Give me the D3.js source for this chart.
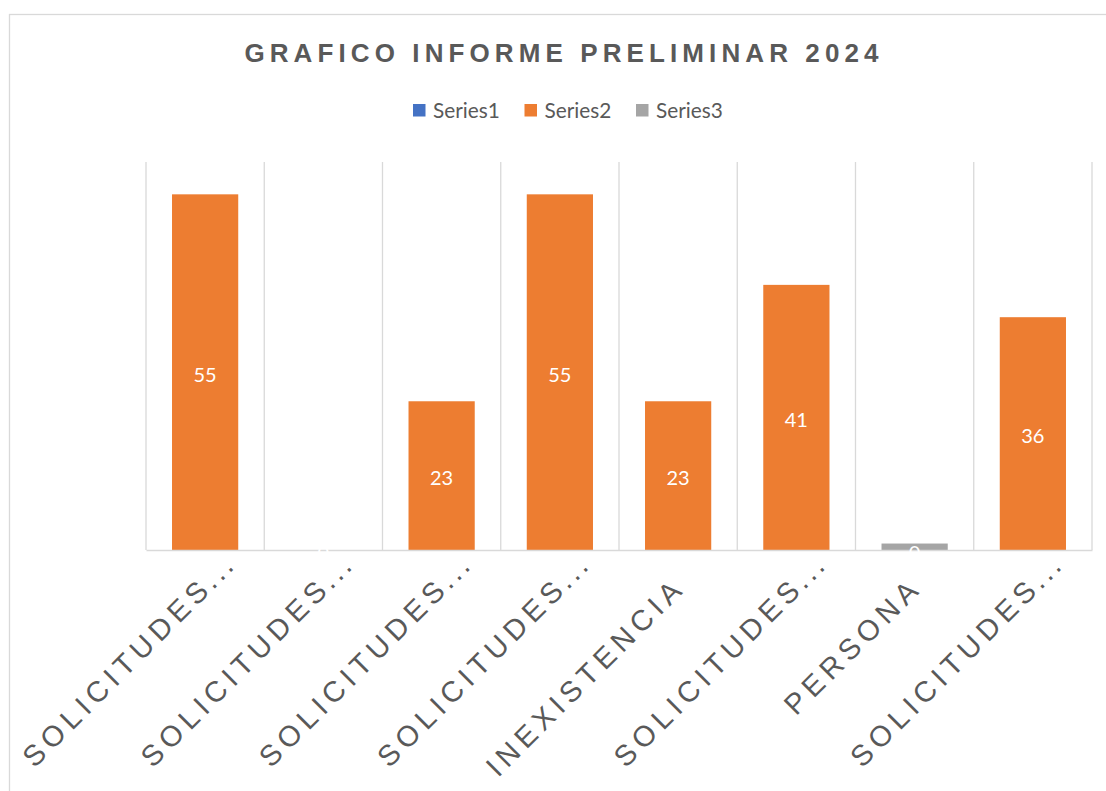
<!DOCTYPE html>
<html>
<head>
<meta charset="utf-8">
<script src="https://cdn.jsdelivr.net/npm/d3@7"></script>
<style>
  html, body { margin: 0; padding: 0; background: #ffffff; }
  svg { display: block; }
</style>
</head>
<body>
<svg id="chart" width="1106" height="791"></svg>
<script>
// ---- data ----
const title = "GRAFICO INFORME PRELIMINAR 2024";
const categories = ["SOLICITUDES...", "SOLICITUDES...", "SOLICITUDES...", "SOLICITUDES...",
                    "INEXISTENCIA", "SOLICITUDES...", "PERSONA", "SOLICITUDES..."];
const seriesNames = ["Series1", "Series2", "Series3"];
const series1 = [0, 0, 0, 0, 0, 0, 0, 0];
const series2 = [55, 0, 23, 55, 23, 41, 0, 36];
const series3 = [0, 0, 0, 0, 0, 0, 1, 0];
const yMax = 60;

// ---- layout ----
const W = 1106, H = 791;
const plot = { left: 146, right: 1092, top: 162, bottom: 550 };
const colors = ["#4472c4", "#ed7d31", "#a5a5a5"];
const gridColor = "#d9d9d9";
const textColor = "#595959";

const svg = d3.select("#chart");

// chart border
svg.append("rect")
  .attr("x", 9.5).attr("y", 14.5)
  .attr("width", W + 20).attr("height", H + 20)
  .attr("fill", "#ffffff")
  .attr("stroke", gridColor).attr("stroke-width", 1.3);

// title
svg.append("text")
  .attr("x", 564).attr("y", 62)
  .attr("text-anchor", "middle")
  .attr("font-family", "'Liberation Sans', Arial, sans-serif")
  .attr("font-weight", "bold")
  .attr("font-size", 26)
  .attr("letter-spacing", 5.1)
  .attr("fill", textColor)
  .text(title);

// legend
const legend = svg.append("g");
seriesNames.forEach((name, i) => {
  const lx = 413 + i * 111.5;
  legend.append("rect")
    .attr("x", lx).attr("y", 104)
    .attr("width", 12.5).attr("height", 12.5)
    .attr("fill", colors[i]);
  legend.append("text")
    .attr("x", lx + 20).attr("y", 117.5)
    .attr("font-family", "Lato, 'Open Sans', sans-serif")
    .attr("font-size", 20.8)
    .attr("fill", textColor)
    .text(name);
});

// scales
const idx = categories.map((d, i) => i);
const x = d3.scaleBand()
  .domain(idx)
  .range([plot.left, plot.right])
  .paddingInner(0.44)
  .paddingOuter(0.22);
const y = d3.scaleLinear()
  .domain([0, yMax])
  .range([plot.bottom, plot.top]);

// vertical gridlines at category boundaries
const step = x.step();
const bounds = d3.range(categories.length + 1).map(i => plot.left + i * step);
svg.append("g").selectAll("line")
  .data(bounds)
  .join("line")
  .attr("x1", d => d).attr("x2", d => d)
  .attr("y1", plot.top).attr("y2", plot.bottom)
  .attr("stroke", gridColor).attr("stroke-width", 1.3);

// bars (overlap 100%: all series share the same slot)
const allSeries = [series1, series2, series3];
allSeries.forEach((vals, s) => {
  svg.append("g").selectAll("rect")
    .data(vals.map((v, i) => ({ i, v })))
    .join("rect")
    .attr("x", d => x(d.i))
    .attr("width", x.bandwidth())
    .attr("y", d => y(d.v))
    .attr("height", d => y(0) - y(d.v))
    .attr("fill", colors[s]);
});

// x axis
const axis = d3.axisBottom(x).tickSize(0).tickFormat("");
const gx = svg.append("g")
  .attr("transform", `translate(0,${plot.bottom})`)
  .call(axis);
gx.select(".domain").attr("stroke", gridColor).attr("stroke-width", 1.6);

gx.selectAll(".tick").each(function (d) {
  const label = categories[d];
  const truncated = label.endsWith("...");
  const word = truncated ? label.slice(0, -3) : label;
  const g = d3.select(this).append("g")
    .attr("transform", "translate(5,43) rotate(-45)");
  const common = sel => sel
    .attr("font-family", "'Liberation Sans', Arial, sans-serif")
    .attr("font-size", 29)
    .attr("fill", textColor);
  g.append("text").call(common)
    .attr("letter-spacing", 5.5)
    .attr("x", 5.5).attr("y", 0)
    .attr("text-anchor", "end")
    .text(word);
  if (truncated) {
    g.append("text").call(common)
      .attr("letter-spacing", 3.5)
      .attr("x", 4).attr("y", 0)
      .attr("text-anchor", "start")
      .text("...");
  }
});

// data labels for Series2 (centered in bars)
svg.append("g").selectAll("text")
  .data(series2.map((v, i) => ({ i, v })))
  .join("text")
  .attr("x", d => x(d.i) + x.bandwidth() / 2)
  .attr("y", d => (y(d.v) + y(0)) / 2 + 1.5)
  .attr("text-anchor", "middle")
  .attr("dominant-baseline", "central")
  .attr("font-family", "Lato, 'Open Sans', sans-serif")
  .attr("font-size", 20)
  .attr("fill", "#ffffff")
  .text(d => d.v);
</script>
</body>
</html>
